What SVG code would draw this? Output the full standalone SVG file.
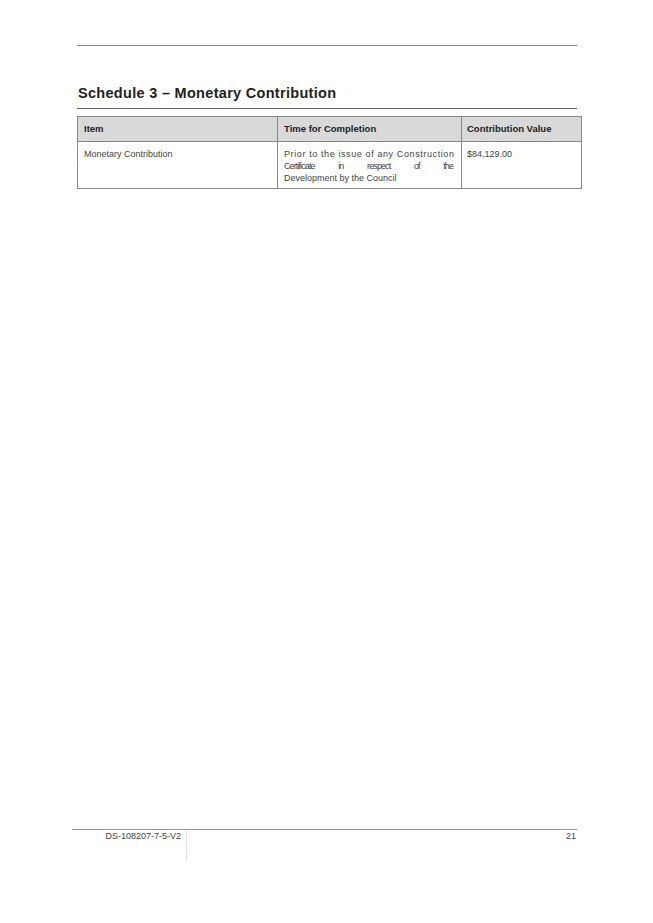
<svg xmlns="http://www.w3.org/2000/svg" width="653" height="923" viewBox="0 0 653 923">
<style>
.t{font-family:"Liberation Sans",Arial,sans-serif;fill:#222}
.b{font-size:9.5px;font-weight:bold}
.n{font-size:9px;fill:#444}
.ln{stroke:#888;stroke-width:1}
</style>
<rect width="653" height="923" fill="#fff"/>
<line class="ln" x1="77" y1="45.5" x2="577" y2="45.5"/>
<text class="t" x="78" y="98" font-size="14.5" font-weight="bold" letter-spacing="0.3">Schedule 3 – Monetary Contribution</text>
<line x1="77" y1="108.5" x2="577" y2="108.5" stroke="#666" stroke-width="1"/>
<g id="table">
<rect x="77.5" y="116.5" width="504" height="25" fill="#d9d9d9" stroke="#888"/>
<rect x="77.5" y="141.5" width="504" height="47" fill="none" stroke="#888"/>
<line class="ln" x1="277.5" y1="116" x2="277.5" y2="189"/>
<line class="ln" x1="461.5" y1="116" x2="461.5" y2="189"/>
<text class="t b" x="84" y="132">Item</text>
<text class="t b" x="284" y="132">Time for Completion</text>
<text class="t b" x="467" y="132">Contribution Value</text>
<text class="t n" x="84" y="157">Monetary Contribution</text>
<text class="t n" x="284" y="157" textLength="170" lengthAdjust="spacing">Prior to the issue of any Construction</text>
<text class="t n" x="284" y="169" textLength="170" lengthAdjust="spacing" word-spacing="22">Certificate in respect of the</text>
<text class="t n" x="284" y="181">Development by the Council</text>
<text class="t n" x="467" y="157">$84,129.00</text>
</g>
<line x1="72" y1="829.5" x2="577" y2="829.5" stroke="#999"/>
<line x1="186.5" y1="830" x2="186.5" y2="861" stroke="#e4e4e4"/>
<text class="t n" x="181" y="839" text-anchor="end">DS-108207-7-5-V2</text>
<text class="t n" x="576" y="839" text-anchor="end">21</text>
</svg>
